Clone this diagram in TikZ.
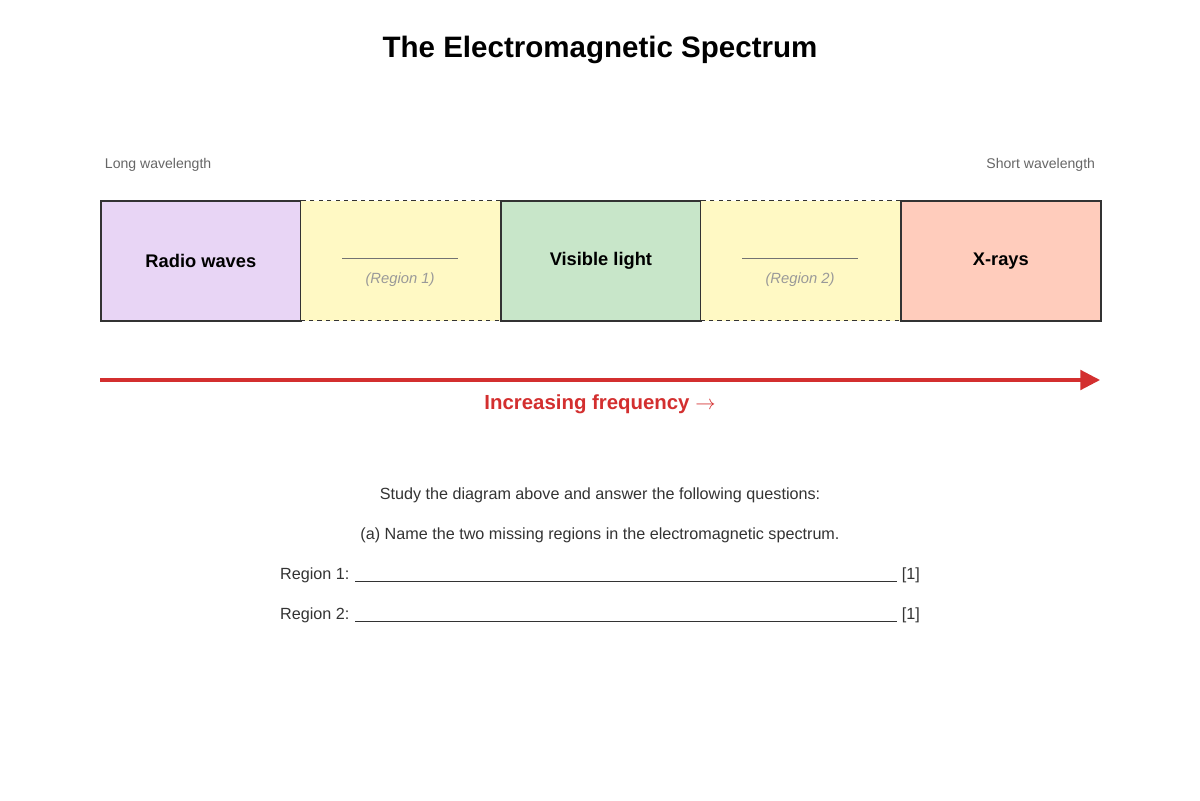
\documentclass[tikz,border=0pt]{standalone}
\usepackage{fontspec}
\setmainfont{Liberation Sans}
\usetikzlibrary{arrows.meta}
\definecolor{radiofill}{HTML}{E8D5F5}
\definecolor{gapfill}{HTML}{FFF9C4}
\definecolor{visfill}{HTML}{C8E6C9}
\definecolor{xfill}{HTML}{FFCCBC}
\definecolor{freqred}{HTML}{D32F2F}
\definecolor{bodytext}{HTML}{333333}
\begin{document}
\begin{tikzpicture}[x=0.025cm,y=-0.025cm]
  \tikzstyle{band} = [rectangle, minimum width=5cm, minimum height=3cm, draw=bodytext, line width=1.2pt, anchor=north west, font=\fontsize{13}{15}\selectfont\bfseries]
  \tikzstyle{gap} = [band, fill=gapfill, dashed, line width=0.8pt]
  \tikzstyle{hint} = [font=\fontsize{10.5}{12}\selectfont\itshape, text=black!40]
  \tikzstyle{side} = [font=\fontsize{10}{12}\selectfont, text=black!60]
  \tikzstyle{body} = [font=\fontsize{11.5}{14}\selectfont, text=bodytext]

  \useasboundingbox (0,0) rectangle (1200,800);

  \node (title) at (600,50) {\fontsize{21}{25}\selectfont\bfseries The Electromagnetic Spectrum};

  \node (long) [side, anchor=west] at (100,165) {Long wavelength};
  \node (short) [side, anchor=east] at (1100,165) {Short wavelength};

  \node (radio) [band, fill=radiofill] at (100,200) {Radio waves};
  \node (region1) [gap] at (300,200) {};
  \node (visible) [band, fill=visfill] at (500,200) {Visible light};
  \node (region2) [gap] at (700,200) {};
  \node (xrays) [band, fill=xfill] at (900,200) {X-rays};

  \draw [black!55, line width=0.6pt] (342,258) -- (458,258);
  \node (hint1) [hint] at (400,280) {(Region 1)};
  \draw [black!55, line width=0.6pt] (742,258) -- (858,258);
  \node (hint2) [hint] at (800,280) {(Region 2)};

  \coordinate (fstart) at (100,380);
  \coordinate (fend) at (1100,380);
  \draw [freqred, line width=2.2pt, -{Triangle[length=14pt,width=14pt]}] (fstart) -- (fend);
  \node (freq) [text=freqred, font=\fontsize{14.5}{17}\selectfont\bfseries] at (600,404) {Increasing frequency $\rightarrow$};

  \node (intro) [body] at (600,495) {Study the diagram above and answer the following questions:};
  \node (qa) [body] at (600,535) {(a) Name the two missing regions in the electromagnetic spectrum.};
  \node (ans1) [body] at (600,575) {Region 1: \rule[-2pt]{13.55cm}{0.5pt} [1]};
  \node (ans2) [body] at (600,615) {Region 2: \rule[-2pt]{13.55cm}{0.5pt} [1]};
\end{tikzpicture}
\end{document}
